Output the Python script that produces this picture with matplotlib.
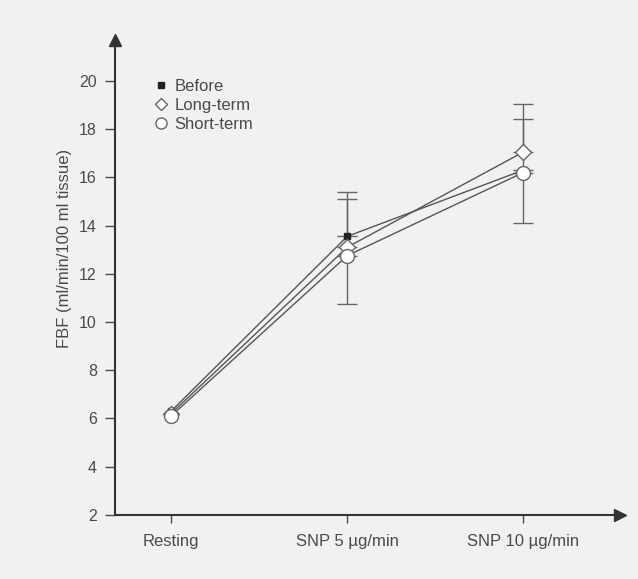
import numpy as np
import matplotlib.pyplot as plt

plt.rcParams['font.family'] = ['Liberation Sans', 'DejaVu Sans']

# data
conditions = ['Resting', 'SNP 5 \u00b5g/min', 'SNP 10 \u00b5g/min']
before = [6.3, 13.55, 16.3]
long_term = [6.2, 13.1, 17.05]
short_term = [6.1, 12.75, 16.2]
# one-sided error bars (SD), up for before/long-term, down for short-term
before_err = [0.0, 1.85, 2.1]
long_err = [0.0, 2.0, 2.0]
short_err = [0.0, 2.0, 2.1]

x = np.arange(len(conditions))
bg = '#f1f1ef'
ink = '#4a4a4a'

fig = plt.figure(figsize=(6.38, 5.79), dpi=100, facecolor=bg)
ax = fig.add_axes([0.18, 0.111, 0.792, 0.82], facecolor=bg)

# lines first
for y in (before, long_term, short_term):
    ax.plot(x, y, color='#555555', lw=1.0, zorder=2)

# error bars
ax.errorbar(x[1:], np.array(before[1:]), yerr=[np.zeros(2), before_err[1:]],
            fmt='none', ecolor='#666666', elinewidth=1.0, capsize=7, capthick=1.0, zorder=1)
ax.errorbar(x[1:], np.array(long_term[1:]), yerr=[np.zeros(2), long_err[1:]],
            fmt='none', ecolor='#666666', elinewidth=1.0, capsize=7, capthick=1.0, zorder=1)
ax.errorbar(x[1:], np.array(short_term[1:]), yerr=[short_err[1:], np.zeros(2)],
            fmt='none', ecolor='#666666', elinewidth=1.0, capsize=7, capthick=1.0, zorder=1)

# markers
h_before, = ax.plot(x, before, ls='none', marker='s', ms=5, mfc='#222222', mec='#222222', zorder=3)
h_long, = ax.plot(x, long_term, ls='none', marker='D', ms=8, mfc='white', mec='#666666', mew=1.0, zorder=4)
h_short, = ax.plot(x, short_term, ls='none', marker='o', ms=10, mfc='white', mec='#666666', mew=1.0, zorder=5)

ax.set_xlim(-0.32, 2.55)
ax.set_ylim(2, 21.7)
ax.set_xticks(x)
ax.set_xticklabels(conditions, fontsize=12, color=ink)
ax.set_yticks(np.arange(2, 21, 2))
ax.tick_params(axis='y', labelsize=11.5, colors=ink, length=7, width=1.0, pad=6)
ax.tick_params(axis='x', length=6, width=1.0, colors=ink, pad=8)
ax.set_ylabel('FBF (ml/min/100 ml tissue)', fontsize=12, color=ink, labelpad=4)
ax.yaxis.set_label_coords(-0.085, 0.56)

for s in ('top', 'right'):
    ax.spines[s].set_visible(False)
for s in ('left', 'bottom'):
    ax.spines[s].set_color('#333333')
    ax.spines[s].set_linewidth(1.5)

# arrow heads on the axes
ax.plot(1, 0, '>', color='#333333', ms=8, transform=ax.transAxes, clip_on=False)
ax.plot(0, 1, '^', color='#333333', ms=8, transform=ax.transAxes, clip_on=False)

ax.legend([h_before, h_long, h_short], ['Before', 'Long-term', 'Short-term'],
          loc='upper left', bbox_to_anchor=(0.045, 0.95), frameon=False,
          fontsize=12, handletextpad=0.3, labelspacing=0.25, handlelength=1.0,
          labelcolor=ink, markerscale=0.8)

fig.savefig('out.png', dpi=100, facecolor=bg)
